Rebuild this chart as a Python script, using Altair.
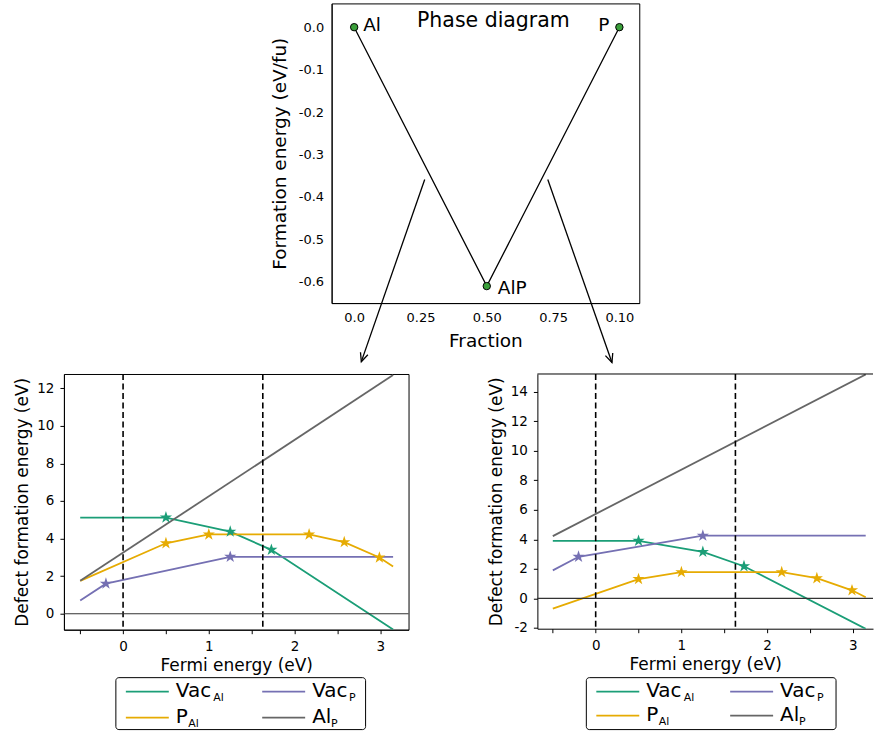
import altair as alt
import pandas as pd

FONT = "DejaVu Sans"

# ---------------- phase diagram ----------------
phase_names = ["Al", "AlP", "P"]
phase_fraction = [0.0, 0.5, 1.0]
phase_energy = [0.0, -0.61, 0.0]
fraction_ticks = [0.0, 0.25, 0.5, 0.75, 1.0]
fraction_tick_labels = ["0.0", "0.25", "0.50", "0.75", "0.10"]
energy_ticks = [0.0, -0.1, -0.2, -0.3, -0.4, -0.5, -0.6]

arrow_x_start = [0.266, 0.730]
arrow_y_start = [-0.359, -0.359]
arrow_x_end = [0.027, 0.972]
arrow_y_end = [-0.788, -0.790]
arrow_angle = [19.2, 340.6]

# ---------------- defect formation energies ----------------
series_names = ["VacAl", "PAl", "VacP", "AlP"]
series_colors = ["#1b9e77", "#e6ab02", "#7570b3", "#666666"]
legend_main = ["Vac", "P", "Vac", "Al"]
legend_sub = ["Al", "Al", "P", "P"]

vacal_x = [-0.5, 0.5, 1.25, 1.73, 3.15]
pal_x = [-0.5, 0.5, 1.0, 2.17, 2.58, 2.99, 3.15]
vacp_x = [-0.5, -0.2, 1.25, 3.15]
alp_x = [-0.5, 3.15]

left_vacal_y = [5.12, 5.12, 4.37, 3.40, -0.84]
left_pal_y = [1.75, 3.75, 4.22, 4.22, 3.81, 2.99, 2.52]
left_vacp_y = [0.70, 1.60, 3.03, 3.03]
left_alp_y = [1.75, 12.70]

right_vacal_y = [3.90, 3.90, 3.15, 2.18, -2.06]
right_pal_y = [-0.69, 1.31, 1.78, 1.78, 1.37, 0.55, 0.08]
right_vacp_y = [1.90, 2.82, 4.25, 4.25]
right_alp_y = [4.22, 15.17]

band_edges = [0.0, 1.63]
fermi_ticks = [-0.5, 0.0, 0.5, 1.0, 1.5, 2.0, 2.5, 3.0]
left_energy_ticks = [0, 2, 4, 6, 8, 10, 12]
right_energy_ticks = [-2, 0, 2, 4, 6, 8, 10, 12, 14]

STAR = ("M0,-1L0.225,-0.309L0.951,-0.309L0.363,0.118L0.588,0.809L0,0.382"
        "L-0.588,0.809L-0.363,0.118L-0.951,-0.309L-0.225,-0.309Z")
ARROWHEAD = "M-0.45,-1L0,0L0.45,-1"

NEG_EXPR_1F = "datum.value < 0 ? '-' + format(-datum.value, '.1f') : format(datum.value, '.1f')"
NEG_EXPR_D = "datum.value < 0 ? '-' + format(-datum.value, 'd') : format(datum.value, 'd')"
INT_EXPR = "datum.value % 1 == 0 ? format(datum.value, 'd') : ''"


def frac_expr():
    parts = [f"datum.value == {v} ? '{l}'" for v, l in zip(fraction_ticks, fraction_tick_labels)]
    return " : ".join(parts) + " : ''"


# ---------------- top chart ----------------
phase_df = pd.DataFrame({"name": phase_names, "x": phase_fraction, "y": phase_energy,
                         "order": list(range(len(phase_names)))})
arrow_df = pd.DataFrame({"x": arrow_x_start, "y": arrow_y_start, "x2": arrow_x_end,
                         "y2": arrow_y_end, "ang": arrow_angle})

tx = alt.X("x:Q", scale=alt.Scale(domain=[-0.085, 1.075], nice=False, zero=False),
           axis=alt.Axis(values=fraction_ticks, labelExpr=frac_expr(), title="Fraction",
                         ticks=False, labelPadding=8, labelFontSize=13, titleFontSize=18.5,
                         titlePadding=7, labelOverlap=False))
ty = alt.Y("y:Q", scale=alt.Scale(domain=[-0.65, 0.056], nice=False, zero=False),
           axis=alt.Axis(values=energy_ticks, labelExpr=NEG_EXPR_1F,
                         title="Formation energy (eV/fu)", ticks=False, labelPadding=8,
                         labelFontSize=13, titleFontSize=18.5, titlePadding=9,
                         labelOverlap=False))

hull = alt.Chart(phase_df).mark_line(color="black", strokeWidth=1.3).encode(
    x=tx, y=ty, order="order:Q")
pts = alt.Chart(phase_df).mark_point(filled=True, fill="#3a9f3a", stroke="black",
                                     strokeWidth=1, size=55, opacity=1).encode(x="x:Q", y="y:Q")
lab_al = alt.Chart(phase_df).transform_filter("datum.name == 'Al'").mark_text(
    align="left", baseline="alphabetic", dx=9, dy=3.5, fontSize=18.5, font=FONT,
    color="black").encode(x="x:Q", y="y:Q", text="name:N")
lab_alp = alt.Chart(phase_df).transform_filter("datum.name == 'AlP'").mark_text(
    align="left", baseline="alphabetic", dx=11, dy=7.5, fontSize=18.5, font=FONT,
    color="black").encode(x="x:Q", y="y:Q", text="name:N")
lab_p = alt.Chart(phase_df).transform_filter("datum.name == 'P'").mark_text(
    align="right", baseline="alphabetic", dx=-10, dy=3.5, fontSize=18.5, font=FONT,
    color="black").encode(x="x:Q", y="y:Q", text="name:N")
title_df = pd.DataFrame({"x": [0.525], "y": [0.0], "t": ["Phase diagram"]})
title_txt = alt.Chart(title_df).mark_text(align="center", baseline="alphabetic",
                                          fontSize=20.5, font=FONT, color="black").encode(
    x="x:Q", y="y:Q", text="t:N")
arrows = alt.Chart(arrow_df).mark_rule(color="black", strokeWidth=1.3, clip=False).encode(
    x="x:Q", y="y:Q", x2="x2:Q", y2="y2:Q")
heads = alt.Chart(arrow_df).mark_point(shape=ARROWHEAD, filled=False, stroke="black",
                                       strokeWidth=1.3, size=300, opacity=1, clip=False).encode(
    x=alt.X("x2:Q"), y=alt.Y("y2:Q"), angle=alt.Angle("ang:Q", scale=None))

top = alt.layer(hull, pts, lab_al, lab_alp, lab_p, title_txt, arrows, heads).properties(
    width=308, height=300)

# ---------------- bottom panels ----------------
def make_lines(ys):
    rows = []
    for name, xs, yv in zip(series_names,
                            [vacal_x, pal_x, vacp_x, alp_x], ys):
        for i, (a, b) in enumerate(zip(xs, yv)):
            rows.append({"series": name, "x": a, "y": b, "idx": i,
                         "end": i == 0 or i == len(xs) - 1})
    return pd.DataFrame(rows)


SUB_DX = [37.5, 12.5, 37, 19]


def legend_layers(bx, by, bw, bh, col_dx, row_dy):
    dummy = pd.DataFrame({"k": [0]})
    layers = [alt.Chart(dummy).mark_rect(fill="white", stroke="black", strokeWidth=1,
                                         cornerRadius=3, clip=False).encode(
        x=alt.value(bx), x2=alt.value(bx + bw), y=alt.value(by), y2=alt.value(by + bh))]
    for i, (col, main, sub) in enumerate(zip(series_colors, legend_main, legend_sub)):
        c, r = divmod(i, 2)
        sx = bx + 10 + c * col_dx
        sy = by + 14 + r * row_dy
        layers.append(alt.Chart(dummy).mark_rule(color=col, strokeWidth=1.8, clip=False).encode(
            x=alt.value(sx), x2=alt.value(sx + 43), y=alt.value(sy)))
        layers.append(alt.Chart(dummy).mark_text(text=main, align="left", baseline="alphabetic",
                                                 fontSize=20, font=FONT, color="black",
                                                 clip=False).encode(
            x=alt.value(sx + 50), y=alt.value(sy + 5)))
        layers.append(alt.Chart(dummy).mark_text(text=sub, align="left", baseline="alphabetic",
                                                 fontSize=11, font=FONT, color="black",
                                                 clip=False).encode(
            x=alt.value(sx + 50 + SUB_DX[i]), y=alt.value(sy + 9.3)))
    return layers


def defect_panel(ys, width, height, xdom, ydom, yticks, framed, legend_args):
    df = make_lines(ys)
    stars_df = df[~df["end"]]
    x_axis = alt.Axis(values=fermi_ticks, labelExpr=INT_EXPR, title="Fermi energy (eV)",
                      tickSize=4, labelPadding=6, labelFontSize=13.5, titleFontSize=17,
                      titlePadding=4, labelOverlap=False)
    y_axis = alt.Axis(values=yticks, labelExpr=NEG_EXPR_D,
                      title="Defect formation energy (eV)", tickSize=4, labelPadding=6,
                      labelFontSize=13.5, titleFontSize=17, titlePadding=5,
                      labelOverlap=False)
    xs = alt.Scale(domain=xdom, nice=False, zero=False)
    ysc = alt.Scale(domain=ydom, nice=False, zero=False)
    x = alt.X("x:Q", scale=xs, axis=x_axis)
    y = alt.Y("y:Q", scale=ysc, axis=y_axis)
    color = alt.Color("series:N", scale=alt.Scale(domain=series_names, range=series_colors),
                      legend=None)
    edges = pd.DataFrame({"x": band_edges})
    zero = pd.DataFrame({"y": [0.0]})
    lines = alt.Chart(df).mark_line(strokeWidth=1.8, clip=True).encode(
        x=x, y=y, color=color, order="idx:Q")
    vlines = alt.Chart(edges).mark_rule(color="black", strokeWidth=1.6,
                                        strokeDash=[6, 3.5]).encode(
        x=alt.X("x:Q", scale=xs, axis=x_axis))
    hline = alt.Chart(zero).mark_rule(color="#333333", strokeWidth=1.2).encode(
        y=alt.Y("y:Q", scale=ysc, axis=y_axis))
    stars = alt.Chart(stars_df).mark_point(shape=STAR, filled=True, size=165, opacity=1).encode(
        x=alt.X("x:Q", scale=xs, axis=x_axis), y=alt.Y("y:Q", scale=ysc, axis=y_axis),
        color=color)
    layers = [lines, vlines, hline, stars]
    if not framed:
        dummy = pd.DataFrame({"k": [0]})
        layers.append(alt.Chart(dummy).mark_rule(color="black", strokeWidth=1).encode(
            x=alt.value(0), x2=alt.value(width), y=alt.value(0)))
    layers += legend_layers(*legend_args)
    props = dict(width=width, height=height)
    if not framed:
        props["view"] = alt.ViewBackground(stroke="transparent")
    return alt.layer(*layers).properties(**props)


left = defect_panel([left_vacal_y, left_pal_y, left_vacp_y, left_alp_y], 345, 256,
                    [-0.69, 3.33], [-0.85, 12.76], left_energy_ticks, True,
                    (52, 304, 250, 52, 136.5, 26))
right = defect_panel([right_vacal_y, right_pal_y, right_vacp_y, right_alp_y], 336, 255,
                     [-0.68, 3.235], [-2.05, 15.2], right_energy_ticks, False,
                     (49, 304, 250, 52, 134, 24))

spacer = alt.Chart(pd.DataFrame({"k": [0]})).mark_point(opacity=0, size=0).encode(
    x=alt.value(5), y=alt.value(5)).properties(
    width=205, height=10, view=alt.ViewBackground(stroke="transparent"))

top_row = alt.hconcat(spacer, top, spacing=0)
bottom_row = alt.hconcat(left, right, spacing=76)

chart = alt.vconcat(top_row, bottom_row, spacing=6).properties(
    padding={"left": 13, "top": 2, "right": 0, "bottom": 0}
).configure_axis(
    labelFont=FONT, titleFont=FONT, labelColor="black", titleColor="black",
    domainColor="black", tickColor="black", grid=False, titleFontWeight="normal",
    domainWidth=1, labelOverlap=False
).configure_view(stroke="black", strokeWidth=1).configure_text(font=FONT)

chart.save("out.html", embed_options={"renderer": "svg", "actions": False})
